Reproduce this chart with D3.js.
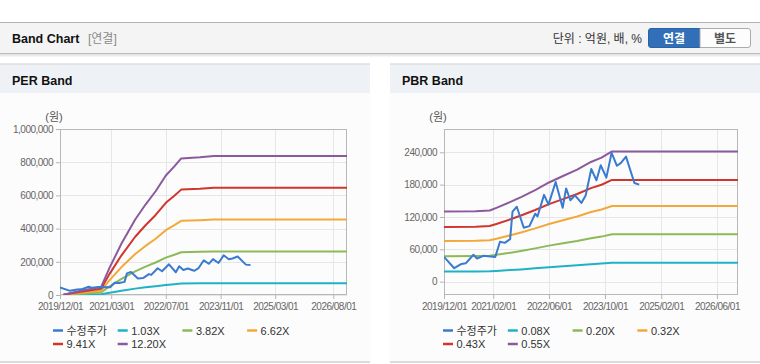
<!DOCTYPE html>
<html><head><meta charset="utf-8">
<script src="https://cdn.jsdelivr.net/npm/d3@7"></script>
<style>
body{margin:0;background:#fff;}
svg{display:block;font-family:"Liberation Sans",Arial,"Noto Sans CJK KR",sans-serif;}
</style></head><body>
<svg id="c" width="760" height="364"></svg>
<script>
// ---------- DATA ----------
const priceDates = ["2019-12-01","2020-02-28","2020-05-01","2020-06-07","2020-08-13","2020-09-13","2020-11-07","2021-02-19","2021-04-01","2021-05-13","2021-06-28","2021-07-19","2021-08-25","2021-10-25","2021-12-13","2022-02-01","2022-02-21","2022-04-19","2022-05-28","2022-07-29","2022-09-28","2022-10-28","2022-12-04","2023-01-13","2023-03-10","2023-04-16","2023-06-04","2023-07-19","2023-08-25","2023-10-13","2023-11-28","2024-01-13","2024-02-15","2024-04-01","2024-06-13","2024-07-25"];
const priceValues = [46000,25000,33000,34000,50000,43000,48000,46000,74000,72000,79000,130000,139000,100000,103000,126000,121000,161000,143000,185000,137000,173000,151000,160000,146000,160000,209000,188000,216000,193000,239000,215000,220000,232000,183000,180000];

const perBandDates = ["2020-01-01","2020-06-01","2020-12-01","2021-02-15","2021-06-01","2021-10-01","2022-01-01","2022-04-01","2022-07-01","2022-09-15","2022-11-15","2023-05-01","2023-09-01","2026-12-01"];
const per103  = [200,2100,4100,13900,26200,38400,46000,52800,60800,65400,69500,70100,70700,70700];
const per382  = [600,7800,15000,51700,97100,142500,170600,195700,225400,242700,257700,259900,262400,262400];
const per662  = [1100,13600,26000,89500,168200,246900,295700,339100,390700,420500,446600,450400,454700,454700];
const per941  = [1500,19300,37000,127300,239100,350900,420400,482100,555300,597800,634800,640200,646400,646400];
const per1220 = [2000,25000,48000,165000,310000,455000,545000,625000,720000,775000,823000,830000,838000,838000];

const pbrBandDates = ["2019-12-01","2020-09-01","2021-01-01","2021-03-01","2021-07-01","2021-10-01","2022-02-01","2022-06-01","2022-10-01","2023-02-01","2023-06-01","2023-09-01","2023-12-01","2026-12-01"];
const pbr008 = [18900,19000,19200,19900,21500,22800,24700,26800,28500,30300,32300,33500,35100,35100];
const pbr020 = [47300,47500,48000,49800,53800,57100,61800,66900,71300,75600,80700,83600,87800,87800];
const pbr032 = [75600,75900,76800,79700,86100,91300,98900,107100,114000,121000,129200,133800,140500,140500];
const pbr043 = [101600,102000,103200,107100,115700,122700,132900,143900,153200,162600,173600,179800,188800,188800];
const pbr055 = [130000,130500,132000,137000,148000,157000,170000,184000,196000,208000,222000,230000,241500,241500];

const perXTicks = ["2019-12-01","2021-03-01","2022-07-01","2023-11-01","2025-03-01","2026-08-01"];
const pbrXTicks = ["2019-12-01","2021-02-01","2022-06-01","2023-10-01","2025-02-01","2026-06-01"];
const perYTicks = [0,200000,400000,600000,800000,1000000];
const pbrYTicks = [0,60000,120000,180000,240000];
const xDomain = ["2019-12-01","2026-12-01"];
const perYDomain = [0,1000000];
const pbrYDomain = [-24700,283200];

const perLegend = ["수정주가","1.03X","3.82X","6.62X","9.41X","12.20X"];
const pbrLegend = ["수정주가","0.08X","0.20X","0.32X","0.43X","0.55X"];
const colors = ["#3a7bd0","#1fb2c6","#8dba58","#f3a83a","#d1352c","#8c5a9c"];

// ---------- DRAW ----------
const parse = d3.timeParse("%Y-%m-%d");
const svg = d3.select("#c");

// top header
svg.append("rect").attr("x",0).attr("y",22).attr("width",760).attr("height",1).attr("fill","#b4b4b4");
svg.append("rect").attr("x",0).attr("y",23).attr("width",760).attr("height",30).attr("fill","#f4f4f4");
svg.append("rect").attr("x",0).attr("y",53).attr("width",760).attr("height",1).attr("fill","#bdbdbd");
[["#e2e2e2",54],["#ececec",55],["#f5f5f5",56]].forEach(([c,y])=>svg.append("rect").attr("x",0).attr("y",y).attr("width",760).attr("height",1).attr("fill",c));
svg.append("text").attr("x",12).attr("y",43).attr("font-size","12.5px").attr("font-weight","bold").attr("fill","#111").text("Band Chart");
svg.append("text").attr("x",88).attr("y",43).attr("font-size","12px").attr("fill","#8a8a8a").text("[연결]");
svg.append("text").attr("x",642).attr("y",43).attr("text-anchor","end").attr("font-size","12px").attr("fill","#333").text("단위 : 억원, 배, %");
// buttons
const btnG = svg.append("g");
btnG.append("path").attr("d","M651,28.5 H700 V47.5 H651 Q648.5,47.5 648.5,45 V31 Q648.5,28.5 651,28.5 Z").attr("fill","#3170b8").attr("stroke","#2a62a3");
btnG.append("path").attr("d","M700,28.5 H748 Q750.5,28.5 750.5,31 V45 Q750.5,47.5 748,47.5 H700 Z").attr("fill","#fdfdfd").attr("stroke","#ababab");
btnG.append("text").attr("x",674).attr("y",42.5).attr("text-anchor","middle").attr("font-size","12px").attr("font-weight","bold").attr("fill","#fff").text("연결");
btnG.append("text").attr("x",725).attr("y",42.5).attr("text-anchor","middle").attr("font-size","12px").attr("font-weight","bold").attr("fill","#555").text("별도");

function drawPanel(cfg){
  const g = svg.append("g");
  const L = cfg.left, W = cfg.width;
  g.append("rect").attr("x",L).attr("y",64).attr("width",W).attr("height",298).attr("fill","#fcfcfc");
  g.append("rect").attr("x",L).attr("y",64).attr("width",W).attr("height",29).attr("fill","#eef2f7");
  g.append("rect").attr("x",L).attr("y",63.5).attr("width",W).attr("height",1).attr("fill","#cfcfcf");
  g.append("rect").attr("x",L).attr("y",361).attr("width",W).attr("height",2).attr("fill","#dcdcdc");
  g.append("text").attr("x",L+12).attr("y",85).attr("font-size","12.5px").attr("font-weight","bold").attr("fill","#111").text(cfg.title);

  const x = d3.scaleTime().domain(xDomain.map(parse)).range([cfg.px0,cfg.px1]);
  const y = d3.scaleLinear().domain(cfg.yDomain).range([295,129]);

  // grid
  g.append("g").selectAll("line").data(cfg.yTicks).join("line")
    .attr("x1",cfg.px0).attr("x2",cfg.px1).attr("y1",d=>Math.round(y(d))+0.5).attr("y2",d=>Math.round(y(d))+0.5)
    .attr("stroke","#e6e6e6");
  g.append("g").selectAll("line").data(cfg.xTicks.map(parse)).join("line")
    .attr("x1",d=>Math.round(x(d))+0.5).attr("x2",d=>Math.round(x(d))+0.5).attr("y1",129).attr("y2",295)
    .attr("stroke","#e6e6e6");

  // axes
  const ax = g.append("g").attr("transform","translate(0,295)")
    .call(d3.axisBottom(x).tickValues(cfg.xTicks.map(parse)).tickFormat(d3.timeFormat("%Y/%m/%d")).tickSize(4).tickPadding(4));
  const ay = g.append("g").attr("transform",`translate(${cfg.px0},0)`)
    .call(d3.axisLeft(y).tickValues(cfg.yTicks).tickFormat(d3.format(",")).tickSize(4).tickPadding(3));
  [ax,ay].forEach(a=>{
    a.select(".domain").remove();
    a.selectAll("line").attr("stroke","#b5b5b5");
    a.selectAll("text").attr("fill","#666").attr("font-size","10px").attr("letter-spacing","-0.5px")
      .attr("font-family","'Liberation Sans',Arial,sans-serif");
  });
  // frame
  g.append("rect").attr("x",cfg.px0+0.5).attr("y",129.5).attr("width",cfg.px1-cfg.px0-1).attr("height",165)
    .attr("fill","none").attr("stroke","#b8b8b8");
  g.append("text").attr("x",cfg.px0-6).attr("y",121).attr("text-anchor","middle").attr("font-size","11px").attr("fill","#555").text("(원)");

  // clip
  const cid = "clip"+cfg.title.replace(/\s/g,"");
  g.append("clipPath").attr("id",cid).append("rect").attr("x",cfg.px0).attr("y",129).attr("width",cfg.px1-cfg.px0).attr("height",166);
  const lines = g.append("g").attr("clip-path",`url(#${cid})`);
  const line = d3.line().x(d=>x(d[0])).y(d=>y(d[1]));
  cfg.bands.forEach((vals,i)=>{
    lines.append("path").datum(cfg.bandDates.map((d,k)=>[parse(d),vals[k]]))
      .attr("d",line).attr("fill","none").attr("stroke",colors[i+1]).attr("stroke-width",2).attr("stroke-linejoin","round");
  });
  lines.append("path").datum(priceDates.map((d,k)=>[parse(d),priceValues[k]]))
    .attr("d",line).attr("fill","none").attr("stroke",colors[0]).attr("stroke-width",2).attr("stroke-linejoin","round");

  // legend
  const lg = g.append("g");
  cfg.legend.forEach((name,i)=>{
    const col = i%4, row = Math.floor(i/4);
    const lx = cfg.legX + col*cfg.legStep, ly = 330.5 + row*13.5;
    lg.append("rect").attr("x",lx).attr("y",ly-1.25).attr("width",10).attr("height",2.5).attr("fill",colors[i]);
    lg.append("text").attr("x",lx+13.5).attr("y",ly+4).attr("font-size","11px").attr("fill","#333").text(name);
  });
}

drawPanel({left:0,width:370,title:"PER Band",px0:60,px1:347,yDomain:perYDomain,yTicks:perYTicks,xTicks:perXTicks,
  bandDates:perBandDates,bands:[per103,per382,per662,per941,per1220],legend:perLegend,legX:53,legStep:64.7});
drawPanel({left:390,width:370,title:"PBR Band",px0:444,px1:738,yDomain:pbrYDomain,yTicks:pbrYTicks,xTicks:pbrXTicks,
  bandDates:pbrBandDates,bands:[pbr008,pbr020,pbr032,pbr043,pbr055],legend:pbrLegend,legX:443,legStep:64.8});
</script>
</body></html>
